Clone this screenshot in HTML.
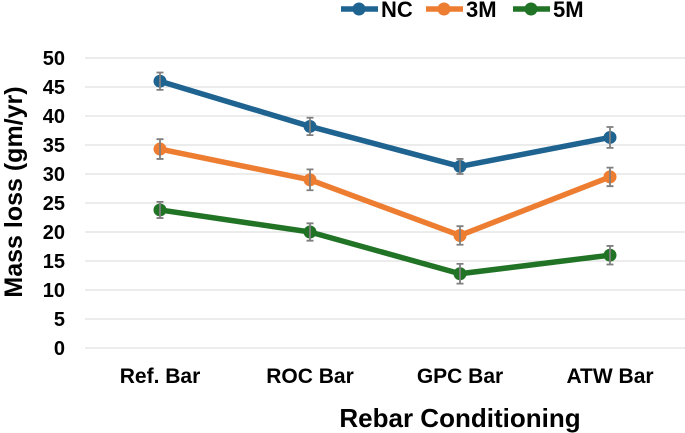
<!DOCTYPE html>
<html><head><meta charset="utf-8"><style>
html,body{margin:0;padding:0;background:#fff;width:685px;height:433px;overflow:hidden}
text{font-family:"Liberation Sans",Arial,sans-serif;font-weight:bold;fill:#000}
</style></head><body>
<svg id="chart" width="685" height="433" viewBox="0 0 685 433" xmlns="http://www.w3.org/2000/svg"></svg>
<script>
const categories = ["Ref. Bar","ROC Bar","GPC Bar","ATW Bar"];
const seriesNames = ["NC","3M","5M"];
const seriesColors = ["#1f6391","#ed7d31","#217325"];
const ncValues = [46, 38.2, 31.3, 36.3];
const m3Values = [34.3, 29, 19.4, 29.5];
const m5Values = [23.8, 20, 12.8, 16];
const ncErr = [1.5, 1.5, 1.3, 1.8];
const m3Err = [1.7, 1.8, 1.6, 1.6];
const m5Err = [1.4, 1.5, 1.7, 1.6];
const yTicks = [0,5,10,15,20,25,30,35,40,45,50];

const svg = document.getElementById('chart');
const NS = 'http://www.w3.org/2000/svg';
const plotL = 85, plotR = 685, y0 = 348, y50 = 58;
const yS = v => y0 - (v/50)*(y0-y50);
const xS = i => plotL + (plotR-plotL)/categories.length*(i+0.5);
function mk(tag, attrs, parent){const e=document.createElementNS(NS,tag);for(const k in attrs)e.setAttribute(k,attrs[k]);(parent||svg).appendChild(e);return e;}

const grid = mk('g',{});


yTicks.forEach(t=>{
  const l = mk('line',{x1:plotL,x2:plotR,y1:yS(t),y2:yS(t),stroke:'#d9d9d9','stroke-width':1},grid);
  
  
  const tx = mk('text',{x:65,y:yS(t)+7,'text-anchor':'end','font-size':20});
  tx.textContent = t;
  
  
});
categories.forEach((c,i)=>{
  const tx = mk('text',{x:xS(i),y:383,'text-anchor':'middle','font-size':21});
  tx.textContent = c;
  
  
});
const yt = mk('text',{x:0,y:0,'text-anchor':'middle','font-size':25,transform:'translate(22,192) rotate(-90)'});
yt.textContent='Mass loss (gm/yr)';


const xt = mk('text',{x:460,y:427,'text-anchor':'middle','font-size':26});
xt.textContent='Rebar Conditioning';



const allVals=[ncValues,m3Values,m5Values], allErr=[ncErr,m3Err,m5Err];
allVals.forEach((vals,s)=>{
  const g = mk('g',{});
  
  
  const ln = mk('polyline',{points:vals.map((v,i)=>xS(i)+','+yS(v)).join(' '),fill:'none',stroke:seriesColors[s],'stroke-width':5.5,'stroke-linejoin':'round'},g);
  
  
  vals.forEach((v,i)=>{
    const c = mk('circle',{cx:xS(i),cy:yS(v),r:6.5,fill:seriesColors[s]},g);
    
    
    const e=allErr[s][i], x=xS(i), yt2=yS(v+e), yb=yS(v-e);
    const eb = mk('path',{d:`M${x},${yt2}V${yb}M${x-3.5},${yt2}H${x+3.5}M${x-3.5},${yb}H${x+3.5}`,stroke:'#7f7f7f','stroke-width':1.8,fill:'none'},g);
    
    
  });
});

const legX=[341,426,513];
const leg = mk('g',{});


seriesNames.forEach((n,s)=>{
  const g = mk('g',{},leg);
  
  
  mk('line',{x1:legX[s],x2:legX[s]+37,y1:9,y2:9,stroke:seriesColors[s],'stroke-width':5.5},g);
  mk('circle',{cx:legX[s]+18,cy:9,r:6.5,fill:seriesColors[s]},g);
  const t = mk('text',{x:legX[s]+40,y:17,'font-size':22},g);
  t.textContent=n;
});
</script>
</body></html>
